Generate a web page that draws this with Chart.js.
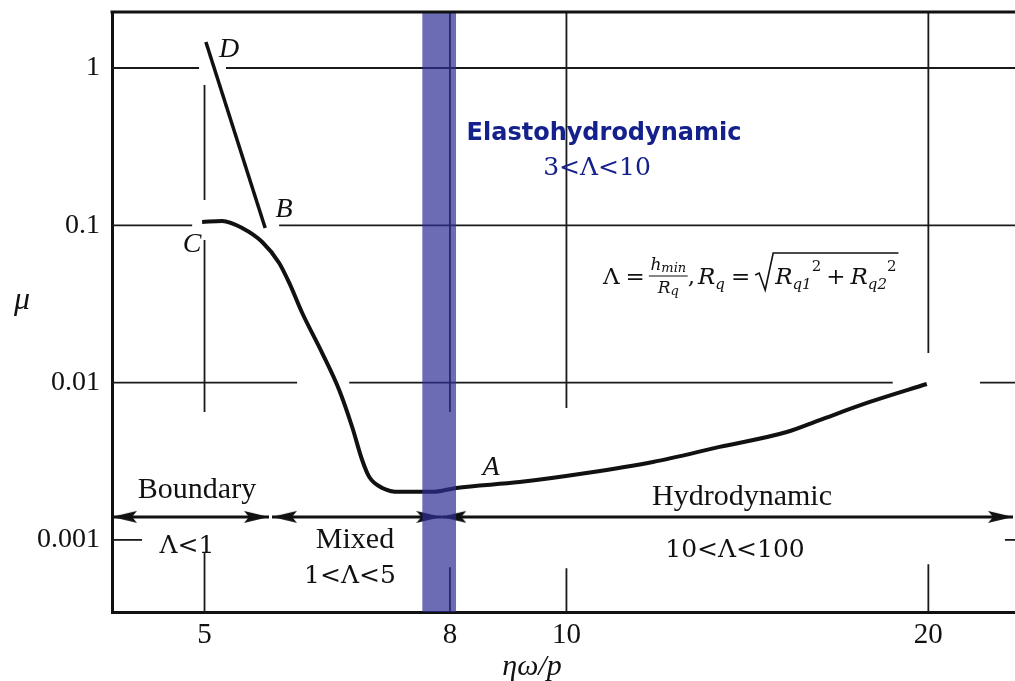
<!DOCTYPE html>
<html>
<head>
<meta charset="utf-8">
<script src="https://cdn.jsdelivr.net/npm/chart.js@4.4.1/dist/chart.umd.min.js"></script>
<style>
  html, body { margin: 0; padding: 0; background: #fff; }
  canvas { display: block; }
</style>
</head>
<body>
<canvas id="stribeck" width="1015" height="681"></canvas>
<script>
// axis ticks and visible range (log-log)
const xTicks = [5, 8, 10, 20];
const yTicks = [1, 0.1, 0.01, 0.001];
const xRange = [4.188, 23.61];
const yRange = [0.000348, 2.27];

// Stribeck curve C -> A
const curveX = [4.977, 5.172, 5.373, 5.584, 5.768, 5.881, 6.029, 6.264, 6.471, 6.634, 6.762, 6.855,
  7.028, 7.261, 7.733, 8.096, 9.14, 10.39, 11.8, 13.41, 15.25, 16.24, 17.88, 19.94];
const curveY = [0.105, 0.1065, 0.0961, 0.0783, 0.0576, 0.043, 0.0277, 0.0154, 0.00897, 0.00522, 0.00322, 0.00251,
  0.00214, 0.00202, 0.00202, 0.00214, 0.00233, 0.00266, 0.00313, 0.0039, 0.00485, 0.00578, 0.00753, 0.0098];

// straight branch D -> B
const lineDBX = [5.013, 5.616];
const lineDBY = [1.463, 0.0961];

// elastohydrodynamic band (x from, x to)
const ehlBand = [7.586, 8.096];

// regime arrows at mu = arrowY
const arrowY = 0.0014;
const regimeArrows = [[4.188, 5.657], [5.69, 7.869], [7.869, 23.52]];

// broken grid lines: vertical [x, yFrom, yTo], horizontal [y, xFrom, xTo]
const gridV = [
  [5, 0.78, 0.145], [5, 0.0806, 0.0065], [5, 0.000826, yRange[0]],
  [8, yRange[1], 0.0065], [8, 0.00067, yRange[0]],
  [10, yRange[1], 0.0069], [10, 0.00066, yRange[0]],
  [20, yRange[1], 0.0154], [20, 0.0007, yRange[0]]
];
const gridH = [
  [1, xRange[0], 4.948], [1, 5.21, xRange[1]],
  [0.1, xRange[0], 4.883], [0.1, 5.768, xRange[1]],
  [0.01, xRange[0], 5.97], [0.01, 6.597, 18.68], [0.01, 22.08, xRange[1]],
  [0.001, xRange[0], 4.436], [0.001, 23.16, xRange[1]]
];

const serif = '"Liberation Serif", "Times New Roman", serif';
const mathFont = '"DejaVu Serif", serif';
const ink = "#111";
const navy = "#14208c";

function arrowHead() {
  const len = 25, half = 6;
  const c = document.createElement("canvas");
  c.width = len * 2;
  c.height = half * 2 + 2;
  const g = c.getContext("2d");
  const cx = len, cy = c.height / 2;
  g.fillStyle = ink;
  g.beginPath();
  g.moveTo(cx, cy);
  g.lineTo(cx - len, cy - half);
  g.lineTo(cx - len + 5, cy);
  g.lineTo(cx - len, cy + half);
  g.closePath();
  g.fill();
  return c;
}
const head = arrowHead();

function pts(xs, ys) {
  return xs.map(function (x, i) { return { x: x, y: ys[i] }; });
}

const datasets = [];

datasets.push({
  data: [{ x: ehlBand[0], y: yRange[1] }, { x: ehlBand[1], y: yRange[1] }],
  borderWidth: 0,
  pointRadius: 0,
  backgroundColor: "rgba(45, 45, 150, 0.7)",
  fill: { value: yRange[0] },
  order: -1,
});

datasets.push({
  data: pts(curveX, curveY),
  borderColor: ink,
  borderWidth: 4,
  pointRadius: 0,
  cubicInterpolationMode: "monotone",
  fill: false,
});

datasets.push({
  data: pts(lineDBX, lineDBY),
  borderColor: ink,
  borderWidth: 3.5,
  pointRadius: 0,
  fill: false,
});

regimeArrows.forEach(function (a) {
  datasets.push({
    data: [{ x: a[0], y: arrowY }, { x: a[1], y: arrowY }],
    borderColor: ink,
    borderWidth: 3,
    pointRadius: 1,
    pointStyle: head,
    pointRotation: [180, 0],
    fill: false,
    clip: false,
  });
});

gridV.forEach(function (g) {
  datasets.push({
    data: [{ x: g[0], y: g[1] }, { x: g[0], y: g[2] }],
    borderColor: "#1a1a1a",
    borderWidth: 1.8,
    pointRadius: 0,
    fill: false,
  });
});
gridH.forEach(function (g) {
  datasets.push({
    data: [{ x: g[1], y: g[0] }, { x: g[2], y: g[0] }],
    borderColor: "#1a1a1a",
    borderWidth: 1.8,
    pointRadius: 0,
    fill: false,
  });
});

// text drawn on top of the plot: [text, x, baseline, font, color]
const notes = [
  ["D", 229, 57, "italic 28px " + serif, ink],
  ["B", 284, 217, "italic 28px " + serif, ink],
  ["C", 192, 252, "italic 28px " + serif, ink],
  ["A", 491, 475, "italic 28px " + serif, ink],
  ["Boundary", 197, 498, "30px " + serif, ink],
  ["Mixed", 355, 548, "30px " + serif, ink],
  ["Hydrodynamic", 742, 505, "30px " + serif, ink],
  ["Λ<1", 187, 553, "25px " + mathFont, ink],
  ["1<Λ<5", 350, 583, "25px " + mathFont, ink],
  ["10<Λ<100", 735, 557, "25px " + mathFont, ink],
  ["Elastohydrodynamic", 604, 140, "bold 24px \"DejaVu Sans\", sans-serif", navy],
  ["3<Λ<10", 597, 175, "25px " + mathFont, navy],
  ["μ", 22, 309, "italic 32px " + serif, ink],
  ["ηω/p", 532, 675, "italic 30px " + serif, ink],
];

function drawFormula(ctx, x0, base) {
  const big = "italic 23px " + mathFont;
  const up = "23px " + mathFont;
  const sub = "italic 15px " + mathFont;
  const fr = "italic 17px " + mathFont;
  const frSub = "italic 13px " + mathFont;
  let x = x0;
  function w(t, f) { ctx.font = f; return ctx.measureText(t).width; }
  function put(t, f, dy) { ctx.font = f; ctx.fillText(t, x, base + (dy || 0)); x += ctx.measureText(t).width; }
  function gap(n) { x += n; }

  put("Λ", up);
  gap(6); put("=", up); gap(4);
  // fraction h_min / R_q
  const numW = w("h", fr) + w("min", frSub);
  const denW = w("R", fr) + w("q", frSub);
  const fw = Math.max(numW, denW) + 3;
  ctx.lineWidth = 1.2;
  ctx.beginPath();
  ctx.moveTo(x, base - 8);
  ctx.lineTo(x + fw, base - 8);
  ctx.stroke();
  const fx = x;
  x = fx + (fw - numW) / 2;
  put("h", fr, -14);
  put("min", frSub, -12);
  x = fx + (fw - denW) / 2;
  put("R", fr, 9);
  put("q", frSub, 11);
  x = fx + fw;
  put(",", up); gap(3);
  put("R", big);
  put("q", sub, 5);
  gap(6); put("=", up); gap(4);
  // radical
  const rx = x;
  ctx.lineWidth = 1.6;
  ctx.beginPath();
  ctx.moveTo(rx + 1, base - 9);
  ctx.lineTo(rx + 5, base - 11);
  ctx.lineTo(rx + 11, base + 6);
  ctx.lineTo(rx + 19, base - 31);
  x = rx + 21;
  put("R", big);
  put("q1", sub, 5);
  put("2", "15px " + mathFont, -13);
  gap(5); put("+", up); gap(5);
  put("R", big);
  put("q2", sub, 5);
  put("2", "15px " + mathFont, -13);
  ctx.lineTo(x + 2, base - 31);
  ctx.stroke();
}

const decorations = {
  id: "decorations",
  afterDraw: function (chart) {
    const ctx = chart.ctx;
    const area = chart.chartArea;
    ctx.save();
    ctx.strokeStyle = ink;
    ctx.lineWidth = 3;
    ctx.beginPath();
    ctx.moveTo(area.left - 1.5, area.top);
    ctx.lineTo(area.right, area.top);
    ctx.stroke();

    ctx.textAlign = "center";
    ctx.textBaseline = "alphabetic";
    notes.forEach(function (n) {
      ctx.font = n[3];
      ctx.fillStyle = n[4];
      ctx.fillText(n[0], n[1], n[2]);
    });

    ctx.textAlign = "left";
    ctx.fillStyle = ink;
    ctx.strokeStyle = ink;
    drawFormula(ctx, 603, 284);
    ctx.restore();
  },
};

new Chart(document.getElementById("stribeck"), {
  type: "line",
  data: { datasets: datasets },
  options: {
    responsive: false,
    animation: false,
    events: [],
    layout: { autoPadding: false, padding: { top: 12, left: 0, right: 0, bottom: 0 } },
    plugins: { legend: { display: false }, tooltip: { enabled: false } },
    scales: {
      x: {
        type: "logarithmic",
        bounds: "data",
        min: xRange[0],
        max: xRange[1],
        afterBuildTicks: function (s) { s.ticks = xTicks.map(function (v) { return { value: v }; }); },
        afterFit: function (s) { s.height = 69; s.paddingLeft = 0; s.paddingRight = 0; },
        grid: { display: false, drawTicks: false },
        border: { display: true, color: ink, width: 3 },
        ticks: {
          autoSkip: false,
          maxRotation: 0,
          padding: 6,
          color: ink,
          font: { family: serif, size: 29 },
          callback: function (v) { return String(v); },
        },
      },
      y: {
        type: "logarithmic",
        bounds: "data",
        min: yRange[0],
        max: yRange[1],
        afterBuildTicks: function (s) { s.ticks = yTicks.map(function (v) { return { value: v }; }); },
        afterFit: function (s) { s.width = 112; s.paddingTop = 0; s.paddingBottom = 0; },
        grid: { display: false, drawTicks: false },
        border: { display: true, color: ink, width: 3 },
        ticks: {
          autoSkip: false,
          padding: 12,
          color: ink,
          font: { family: serif, size: 28 },
          callback: function (v) { return String(v); },
        },
      },
    },
  },
  plugins: [decorations],
});
</script>
</body>
</html>
